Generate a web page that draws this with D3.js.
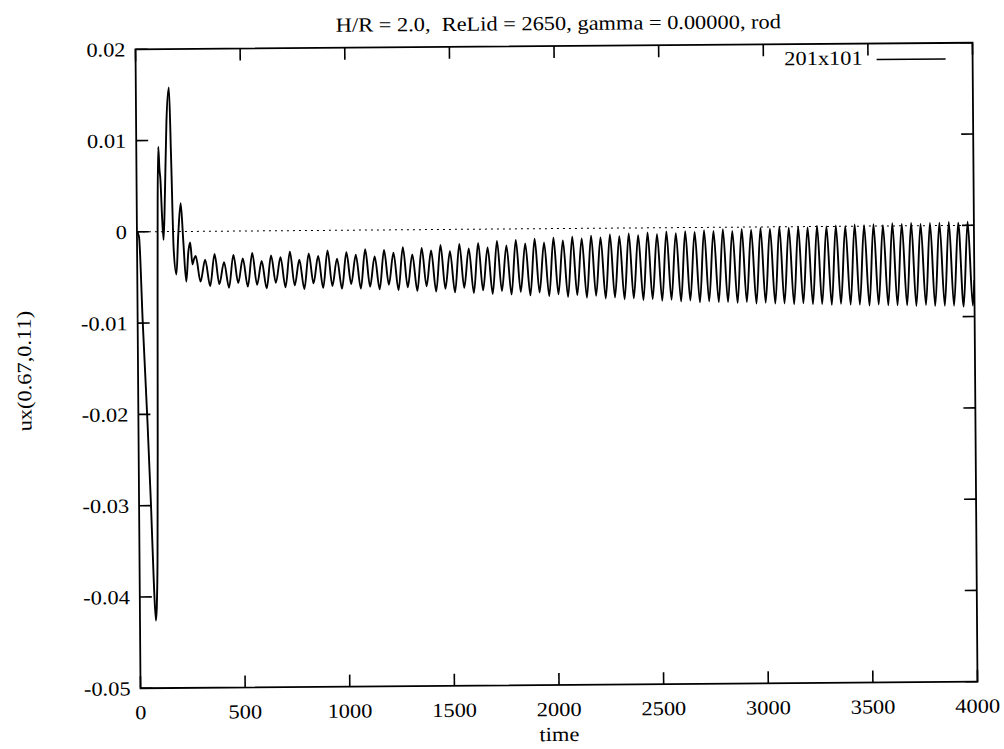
<!DOCTYPE html>
<html>
<head>
<meta charset="utf-8">
<script src="https://cdn.jsdelivr.net/npm/d3@7"></script>
<style>
  html, body { margin: 0; padding: 0; background: #fff; }
  svg { display: block; }
  text { font-family: "Liberation Serif", "Times New Roman", serif; fill: #000; white-space: pre; }
</style>
</head>
<body>
<svg id="chart" width="1004" height="749"></svg>
<script>
// ---------------- data ----------------
const titleText = "H/R = 2.0,  ReLid = 2650, gamma = 0.00000, rod";
const xLabel = "time";
const yLabel = "ux(0.67,0.11)";
const legendLabel = "201x101";
const xTicks = [0, 500, 1000, 1500, 2000, 2500, 3000, 3500, 4000];
const yTicks = [0.02, 0.01, 0, -0.01, -0.02, -0.03, -0.04, -0.05];
const yTickLabels = ["0.02", "0.01", "0", "-0.01", "-0.02", "-0.03", "-0.04", "-0.05"];

// initial transient
const transientTime = [0, 5, 10, 24, 43, 57, 67, 76, 81, 86, 91, 96, 100, 105, 110, 114, 120, 127, 135, 145, 158, 166, 175, 187, 197, 210, 221, 234, 245, 254, 264, 272];
const transientUx = [0.0, -0.0002, -0.0006, -0.0097, -0.0207, -0.030, -0.038, -0.0426, -0.041, -0.036, -0.024, -0.0077, 0.003, 0.0093, 0.0068, 0.0058, 0.002, -0.0009, 0.004, 0.012, 0.0158, 0.008, -0.002, -0.0047, -0.0005, 0.0031, -0.0010, -0.0055, -0.0022, -0.0012, -0.0036, -0.0030];

// periodic regime: successive maxima / minima
const oscTime = [
  280,302, 325,348, 370,392, 415,438, 460,482, 505,528, 550,572, 595,618, 640,662, 685,708,
  730,752, 775,798, 820,842, 865,888, 910,932, 955,978, 1000,1022, 1045,1068, 1090,1112, 1135,1158,
  1180,1202, 1225,1248, 1270,1292, 1315,1338, 1360,1382, 1405,1428, 1450,1472, 1495,1518, 1540,1562, 1585,1608,
  1630,1652, 1675,1698, 1720,1742, 1765,1788, 1810,1832, 1855,1878, 1900,1922, 1945,1968, 1990,2012, 2035,2058,
  2080,2102, 2125,2148, 2170,2192, 2215,2238, 2260,2282, 2305,2328, 2350,2372, 2395,2418, 2440,2462, 2485,2508,
  2530,2552, 2575,2598, 2620,2642, 2665,2688, 2710,2732, 2755,2778, 2800,2822, 2845,2868, 2890,2912, 2935,2958,
  2980,3002, 3025,3048, 3070,3092, 3115,3138, 3160,3182, 3205,3228, 3250,3272, 3295,3318, 3340,3362, 3385,3408,
  3430,3452, 3475,3498, 3520,3542, 3565,3588, 3610,3632, 3655,3678, 3700,3722, 3745,3768, 3790,3812, 3835,3858,
  3880,3902, 3925,3948, 3970,3992, 4000
];
const oscUx = [
  -0.0027,-0.0055, -0.0031,-0.0060, -0.0025,-0.0058, -0.0034,-0.0062, -0.0026,-0.0057, -0.0030,-0.0061, -0.0024,-0.0059, -0.0033,-0.0063, -0.0027,-0.0057, -0.0029,-0.0062,
  -0.0023,-0.0060, -0.0032,-0.0064, -0.0025,-0.0058, -0.0028,-0.0063, -0.0022,-0.0061, -0.0031,-0.0064, -0.0024,-0.0059, -0.0027,-0.0064, -0.0021,-0.0062, -0.0029,-0.0065,
  -0.0022,-0.0060, -0.0025,-0.0066, -0.0019,-0.0063, -0.0027,-0.0067, -0.0020,-0.0062, -0.0023,-0.0068, -0.0017,-0.0065, -0.0024,-0.0069, -0.0016,-0.0064, -0.0021,-0.0070,
  -0.0015,-0.0067, -0.0020,-0.0071, -0.0013,-0.0068, -0.0018,-0.0072, -0.0012,-0.0069, -0.0016,-0.0073, -0.0011,-0.0070, -0.0015,-0.0074, -0.0010,-0.0072, -0.0013,-0.0075,
  -0.0009,-0.0073, -0.0011,-0.0076, -0.0008,-0.0074, -0.0010,-0.0077, -0.0007,-0.0076, -0.0009,-0.0078, -0.0006,-0.0077, -0.0008,-0.0079, -0.0005,-0.0078, -0.0007,-0.0080,
  -0.0004,-0.0079, -0.0006,-0.0081, -0.0004,-0.0080, -0.0005,-0.0082, -0.0003,-0.0081, -0.0004,-0.0082, -0.0002,-0.0082, -0.0004,-0.0083, -0.0002,-0.0082, -0.0003,-0.0084,
  -0.0001,-0.0083, -0.0002,-0.0084, 0.0000,-0.0084, -0.0001,-0.0085, 0.0000,-0.0084, -0.0001,-0.0085, 0.0001,-0.0085, 0.0000,-0.0086, 0.0001,-0.0085, 0.0000,-0.0086,
  0.0002,-0.0086, 0.0001,-0.0087, 0.0002,-0.0086, 0.0001,-0.0087, 0.0003,-0.0087, 0.0002,-0.0087, 0.0003,-0.0088, 0.0002,-0.0087, 0.0003,-0.0088, 0.0003,-0.0088,
  0.0004,-0.0088, 0.0003,-0.0089, 0.0004,-0.0088, -0.0060
];

// ---------------- layout ----------------
const plot = { left: 138, right: 975, top: 46, bottom: 685 };
const FONT = 20;
const SX = 1.12;     // horizontal stretch of the lettering (scanned figure)
const TILT = -0.45;  // the scanned page is very slightly rotated

const root = d3.select("#chart").append("g")
  .attr("transform", `rotate(${TILT},556,365)`);

const x = d3.scaleLinear().domain([0, 4000]).range([plot.left, plot.right]);
const y = d3.scaleLinear().domain([-0.05, 0.02]).range([plot.bottom, plot.top]);

function label(g, txt, px, py, anchor, rot) {
  return g.append("text")
    .attr("transform", `translate(${px},${py})` + (rot ? ` rotate(${rot})` : "") + ` scale(${SX},1)`)
    .attr("text-anchor", anchor)
    .attr("font-size", FONT)
    .text(txt);
}

const series = transientTime.map((t, i) => ({ t, v: transientUx[i] }))
  .concat(oscTime.map((t, i) => ({ t, v: oscUx[i] })));

d3.select("#chart").append("defs").append("clipPath").attr("id", "clip")
  .append("rect")
  .attr("x", plot.left).attr("y", plot.top)
  .attr("width", plot.right - plot.left).attr("height", plot.bottom - plot.top);

// zero line (dotted)
root.append("line")
  .attr("x1", x(0)).attr("x2", x(4000))
  .attr("y1", y(0)).attr("y2", y(0))
  .attr("stroke", "#000").attr("stroke-width", 1)
  .attr("stroke-dasharray", "2,4");

// data line
const line = d3.line().x(d => x(d.t)).y(d => y(d.v)).curve(d3.curveMonotoneX);
root.append("path")
  .datum(series)
  .attr("clip-path", "url(#clip)")
  .attr("fill", "none")
  .attr("stroke", "#000")
  .attr("stroke-width", 1.9)
  .attr("d", line);

// frame
root.append("rect")
  .attr("x", plot.left).attr("y", plot.top)
  .attr("width", plot.right - plot.left).attr("height", plot.bottom - plot.top)
  .attr("fill", "none").attr("stroke", "#000").attr("stroke-width", 1.8);

// ticks (inward, mirrored)
const TL = 12;
const tg = root.append("g").attr("stroke", "#000").attr("stroke-width", 1.6);
xTicks.forEach(v => {
  tg.append("line").attr("x1", x(v)).attr("x2", x(v)).attr("y1", plot.bottom).attr("y2", plot.bottom - TL);
  tg.append("line").attr("x1", x(v)).attr("x2", x(v)).attr("y1", plot.top).attr("y2", plot.top + TL);
});
yTicks.forEach(v => {
  tg.append("line").attr("x1", plot.left).attr("x2", plot.left + TL).attr("y1", y(v)).attr("y2", y(v));
  tg.append("line").attr("x1", plot.right).attr("x2", plot.right - TL).attr("y1", y(v)).attr("y2", y(v));
});

// tick labels
const lg = root.append("g");
xTicks.forEach(v => label(lg, String(v), x(v), 716, "middle"));
yTicks.forEach((v, i) => label(lg, yTickLabels[i], 128, y(v) + 7, "end"));

// axis titles and title
label(lg, xLabel, (plot.left + plot.right) / 2, 741, "middle");
label(lg, yLabel, 31, 367, "middle", -90);
label(lg, titleText, 561, 30, "middle");

// legend
label(lg, legendLabel, 865, 67, "end");
root.append("line")
  .attr("x1", 879).attr("x2", 948).attr("y1", 62).attr("y2", 62)
  .attr("stroke", "#000").attr("stroke-width", 1.4);
</script>
</body>
</html>
